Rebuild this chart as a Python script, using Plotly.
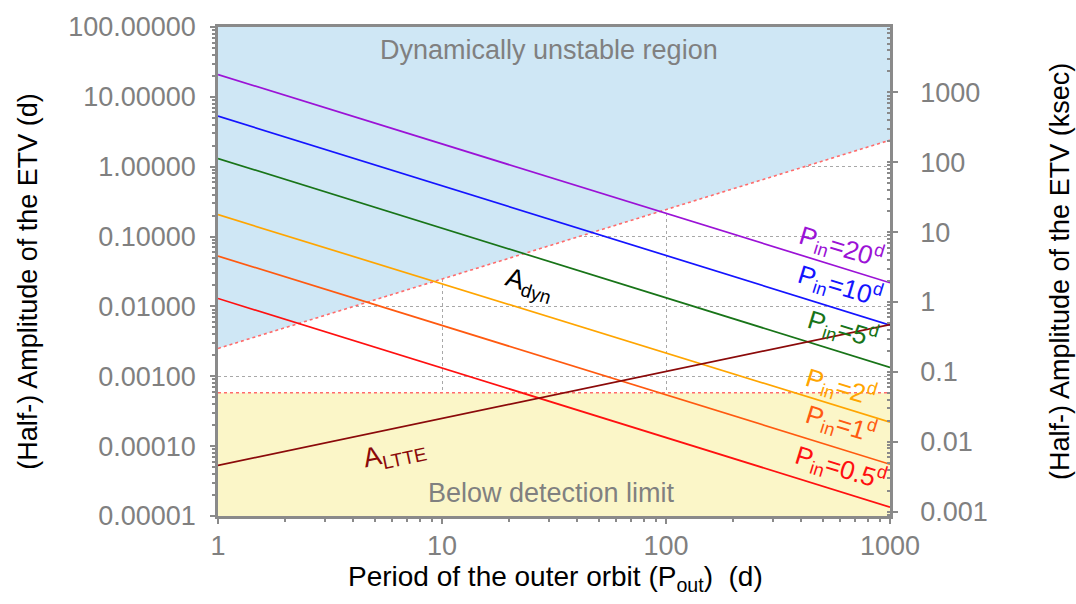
import math
import plotly.graph_objects as go

# Outer-orbit period range (days) where every curve is evaluated
P_OUT_ENDS = [1, 1000]

# Dynamical ETV half-amplitude (days) for each inner period, at P_out = 1 d and 1000 d
P_IN_LABELS = ["20", "10", "5", "2", "1", "0.5"]
A_DYN_START = [20.9, 5.3, 1.31, 0.206, 0.0527, 0.0130]
A_DYN_END = [0.0218, 0.0054, 0.00134, 0.00022, 0.000055, 0.0000134]
LINE_COLORS = ["#9b12d6", "#1414ff", "#187418", "#ffa500", "#ff5a10", "#ff1010"]

# Light-travel-time effect amplitude (days)
A_LTTE_ENDS = [0.000053, 0.0055]

# Stability boundary (days) and detection limit (days, ~50 s)
UNSTABLE_ENDS = [0.0025, 2.4]
DETECTION_LIMIT = 0.00058

# Axis settings
Y_RANGE_D = [1e-5, 100]
DAY_TO_KSEC = 86.4
Y_TICKS_D = [1e-5, 1e-4, 1e-3, 1e-2, 1e-1, 1, 10, 100]
Y_TICKTEXT_D = ["0.00001", "0.00010", "0.00100", "0.01000", "0.10000",
                "1.00000", "10.00000", "100.00000"]
Y_TICKS_KSEC = [0.001, 0.01, 0.1, 1, 10, 100, 1000]
Y_TICKTEXT_KSEC = ["0.001", "0.01", "0.1", "1", "10", "100", "1000"]
X_TICKS = [1, 10, 100, 1000]

FONT = "Liberation Sans, Arial, Helvetica, sans-serif"
GREY = "#808080"
FRAME = "#8a8a8a"
TICK_SIZE = 27
TEXT_SIZE = 27

fig = go.Figure()

x0, x1 = P_OUT_ENDS
ylo, yhi = Y_RANGE_D

# Shaded regions
fig.add_trace(go.Scatter(
    x=[x0, x1, x1, x0], y=[UNSTABLE_ENDS[0], UNSTABLE_ENDS[1], yhi, yhi],
    fill="toself", fillcolor="#cfe7f5", line=dict(width=0),
    mode="lines", hoverinfo="skip", showlegend=False))
fig.add_trace(go.Scatter(
    x=[x0, x1, x1, x0], y=[ylo, ylo, DETECTION_LIMIT, DETECTION_LIMIT],
    fill="toself", fillcolor="#fbf6c8", line=dict(width=0),
    mode="lines", hoverinfo="skip", showlegend=False))

# Region borders
fig.add_trace(go.Scatter(
    x=P_OUT_ENDS, y=UNSTABLE_ENDS, mode="lines",
    line=dict(color="#ff6b6b", width=1.6, dash="dot"),
    hoverinfo="skip", showlegend=False))
fig.add_trace(go.Scatter(
    x=P_OUT_ENDS, y=[DETECTION_LIMIT, DETECTION_LIMIT], mode="lines",
    line=dict(color="#ff6b6b", width=1.6, dash="dot"),
    hoverinfo="skip", showlegend=False))

# A_dyn curves
for lab, a0, a1, col in zip(P_IN_LABELS, A_DYN_START, A_DYN_END, LINE_COLORS):
    fig.add_trace(go.Scatter(
        x=P_OUT_ENDS, y=[a0, a1], mode="lines",
        line=dict(color=col, width=1.7), name="P_in=" + lab, showlegend=False))

# A_LTTE curve
fig.add_trace(go.Scatter(
    x=P_OUT_ENDS, y=A_LTTE_ENDS, mode="lines",
    line=dict(color="#8b0a0a", width=1.7), showlegend=False))

# Invisible trace bound to the secondary (ksec) axis
fig.add_trace(go.Scatter(
    x=P_OUT_ENDS, y=[ylo * DAY_TO_KSEC, yhi * DAY_TO_KSEC], yaxis="y2",
    mode="lines", line=dict(width=0), hoverinfo="skip", showlegend=False))

# Curve labels (positions in log10 units)
LABEL_POS = [(2.781, -1.155), (2.777, -1.704), (2.786, -2.324),
             (2.777, -3.155), (2.781, -3.690), (2.781, -4.310)]
for lab, col, (lx, ly) in zip(P_IN_LABELS, LINE_COLORS, LABEL_POS):
    fig.add_annotation(
        x=lx, y=ly, xref="x", yref="y", showarrow=False, textangle=17,
        xanchor="center", yanchor="middle",
        text="P<sub>in</sub>=" + lab + "<sup>d</sup>",
        font=dict(family=FONT, size=26, color=col))

fig.add_annotation(x=1.388, y=-1.69, xref="x", yref="y", showarrow=False,
                   textangle=17, text="A<sub>dyn</sub>",
                   xanchor="center", yanchor="middle",
                   font=dict(family=FONT, size=TEXT_SIZE, color="black"))
fig.add_annotation(x=0.79, y=-4.113, xref="x", yref="y", showarrow=False,
                   textangle=-12, text="A<sub>LTTE</sub>",
                   xanchor="center", yanchor="middle",
                   font=dict(family=FONT, size=TEXT_SIZE, color="#8b0a0a"))
fig.add_annotation(x=1.478, y=1.676, xref="x", yref="y", showarrow=False,
                   text="Dynamically unstable region",
                   xanchor="center", yanchor="middle",
                   font=dict(family=FONT, size=TEXT_SIZE, color=GREY))
fig.add_annotation(x=1.491, y=-4.676, xref="x", yref="y", showarrow=False,
                   text="Below detection limit",
                   xanchor="center", yanchor="middle",
                   font=dict(family=FONT, size=TEXT_SIZE, color=GREY))

# Axis titles, placed in pixels then converted to paper fractions
L, R, T, B = 218, 186, 19, 88
W, H = 1076, 604
pw, ph = W - L - R, H - T - B


def px_to_paper(px, py):
    return (px - L) / pw, (H - B - py) / ph


for text, (px, py), ang, size in [
    ("(Half-) Amplitude of the ETV (d)", (28, 278), -90, 27),
    ("(Half-) Amplitude of the ETV (ksec)", (1060, 268), -90, 27),
    ("Period of the outer orbit (P<sub>out</sub>)  (d)", (555, 580), 0, 28),
]:
    ax, ay = px_to_paper(px, py)
    fig.add_annotation(x=ax, y=ay, xref="paper", yref="paper", showarrow=False,
                       text=text, textangle=ang, xanchor="center",
                       yanchor="middle",
                       font=dict(family=FONT, size=size, color="black"))

axis_common = dict(
    type="log", showline=True, linecolor=FRAME, linewidth=2.5,
    tickfont=dict(family=FONT, size=TICK_SIZE, color=GREY),
    ticks="outside", ticklen=5, tickcolor=FRAME, tickwidth=1.5,
    zeroline=False,
)

fig.update_layout(
    width=W, height=H,
    margin=dict(l=L, r=R, t=T, b=B, pad=0),
    plot_bgcolor="white", paper_bgcolor="white",
    showlegend=False,
    xaxis=dict(
        **axis_common, range=[math.log10(x0), math.log10(x1)],
        tickvals=X_TICKS, ticktext=[str(v) for v in X_TICKS],
        mirror=True, showgrid=True, gridcolor="#a8a8a8", griddash="dot",
        gridwidth=1.2,
        minor=dict(ticks="outside", ticklen=3, tickcolor=FRAME, dtick="D1",
                   showgrid=False),
        ticklabelstandoff=-1,
    ),
    yaxis=dict(
        **axis_common, range=[math.log10(ylo), math.log10(yhi)],
        tickvals=Y_TICKS_D, ticktext=Y_TICKTEXT_D,
        showgrid=True, gridcolor="#a8a8a8", griddash="dot", gridwidth=1.2,
        minor=dict(ticks="outside", ticklen=3, tickcolor=FRAME, dtick="D1",
                   showgrid=False),
        ticklabelstandoff=9,
    ),
    yaxis2=dict(
        **axis_common, overlaying="y", side="right",
        range=[math.log10(ylo * DAY_TO_KSEC), math.log10(yhi * DAY_TO_KSEC)],
        tickvals=Y_TICKS_KSEC, ticktext=Y_TICKTEXT_KSEC, showgrid=False,
        minor=dict(ticks="inside", ticklen=3, tickcolor=FRAME, dtick="D1",
                   showgrid=False),
        ticklabelstandoff=17,
    ),
)

fig.write_html("out.html")
